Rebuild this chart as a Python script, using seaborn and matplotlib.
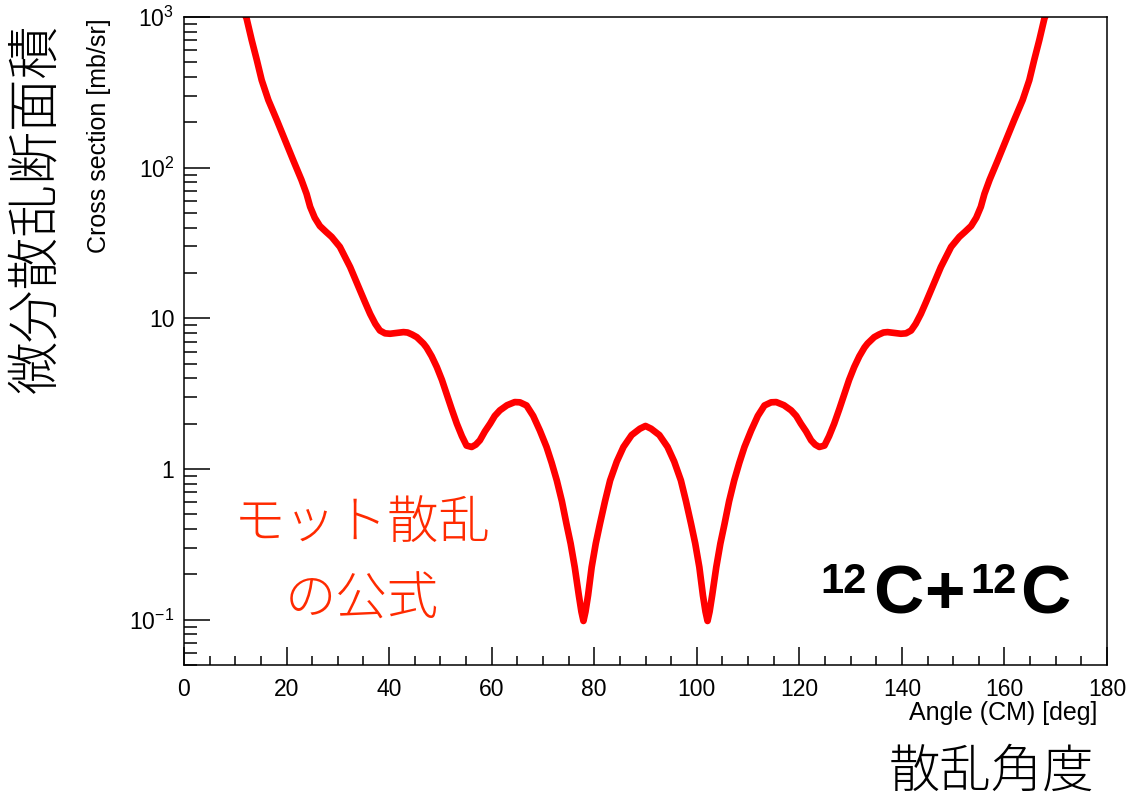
import matplotlib
matplotlib.use("Agg")
import matplotlib.pyplot as plt
import matplotlib.ticker as mticker
import pandas as pd
import seaborn as sns

# scattering angle (CM) in degrees
angle = [10.8, 12.2, 13.2, 14.2, 15.15, 16.45, 18.1, 19.7, 21.3, 22.9, 23.9,
         24.6, 25.5, 26.5, 27.7, 28.8, 30.4, 31.4, 32.4, 33.3, 34.3, 35.3,
         36.3, 37.3, 38.2, 39.2, 40.2, 41.5, 42.8, 43.6, 44.5, 45.4, 46.7,
         47.3, 48.3, 49.3, 50.3, 51.2, 52.2, 53.2, 54.2, 55.1, 56.1, 56.9,
         57.7, 58.7, 59.7, 60.6, 61.6, 63.0, 64.5, 65.5, 66.8, 68.1, 69.4,
         70.7, 71.7, 72.7, 73.7, 74.6, 75.4, 76.2, 77.0, 77.5, 77.9, 78.3,
         78.8, 79.5, 80.3, 81.1, 82.1, 83.1, 84.4, 85.7, 87.3, 88.9, 90.0,
         91.1, 92.7, 94.3, 95.6, 96.9, 97.9, 98.9, 99.7, 100.5, 101.2, 101.7,
         102.1, 102.5, 103.0, 103.8, 104.6, 105.4, 106.3, 107.3, 108.3, 109.3,
         110.6, 111.9, 113.2, 114.5, 115.5, 117.0, 118.4, 119.4, 120.3, 121.3,
         122.3, 123.1, 123.9, 124.9, 125.8, 126.8, 127.8, 128.8, 129.7, 130.7,
         131.7, 132.7, 133.3, 134.6, 135.5, 136.4, 137.2, 138.5, 139.8, 140.8,
         141.8, 142.7, 143.7, 144.7, 145.7, 146.7, 147.6, 148.6, 149.6, 151.2,
         152.3, 153.5, 154.5, 155.4, 156.1, 157.1, 158.7, 160.3, 161.9, 163.55,
         164.85, 165.8, 166.8, 167.8, 169.2]

# differential cross section [mb/sr]
xsec = [1250, 980, 703, 518, 381, 281, 207, 152, 112, 83, 67,
        55, 46.5, 41, 37.5, 34.7, 29.8, 25.5, 21.9, 18.5, 15.4, 12.8,
        10.7, 9.2, 8.3, 7.95, 7.9, 8.0, 8.1, 8.05, 7.8, 7.5, 6.8,
        6.4, 5.6, 4.75, 3.9, 3.16, 2.5, 2.0, 1.65, 1.43, 1.40, 1.45,
        1.55, 1.78, 2.0, 2.25, 2.45, 2.65, 2.78, 2.77, 2.64, 2.25, 1.8,
        1.40, 1.1, 0.84, 0.61, 0.43, 0.32, 0.223, 0.145, 0.113, 0.098, 0.113,
        0.145, 0.223, 0.32, 0.43, 0.61, 0.84, 1.12, 1.40, 1.68, 1.85, 1.93,
        1.85, 1.68, 1.40, 1.12, 0.84, 0.61, 0.43, 0.32, 0.223, 0.145, 0.113,
        0.098, 0.113, 0.145, 0.223, 0.32, 0.43, 0.61, 0.84, 1.1, 1.40,
        1.8, 2.25, 2.64, 2.77, 2.78, 2.65, 2.45, 2.25, 2.0, 1.78,
        1.55, 1.45, 1.40, 1.43, 1.65, 2.0, 2.5, 3.16, 3.9, 4.75,
        5.6, 6.4, 6.8, 7.5, 7.8, 8.05, 8.1, 8.0, 7.9, 7.95,
        8.3, 9.2, 10.7, 12.8, 15.4, 18.5, 21.9, 25.5, 29.8, 34.7,
        37.5, 41, 46.5, 55, 67, 83, 112, 152, 207, 281,
        381, 518, 703, 980, 1250]

ytick_vals = [0.1, 1, 10, 100, 1000]
ytick_labels = ['$10^{-1}$', '1', '10', '$10^{2}$', '$10^{3}$']

sns.set_style("ticks")
plt.rcParams['font.family'] = ['Liberation Sans', 'DejaVu Sans']
plt.rcParams['mathtext.fontset'] = 'custom'
plt.rcParams['mathtext.rm'] = 'Liberation Sans'
plt.rcParams['mathtext.it'] = 'Liberation Sans'
plt.rcParams['mathtext.bf'] = 'Liberation Sans:bold'
for key in ['text.color', 'axes.labelcolor', 'xtick.color', 'ytick.color',
            'axes.edgecolor']:
    plt.rcParams[key] = 'black'

W, H = 1132, 799
fig = plt.figure(figsize=(W / 100, H / 100), dpi=100)
ax = fig.add_axes([184 / W, 1 - 665 / H, (1107 - 184) / W, (665 - 17) / H])

df = pd.DataFrame({'angle': angle, 'xsec': xsec})
sns.lineplot(data=df, x='angle', y='xsec', ax=ax, color='#ff0000',
             linewidth=4.8, sort=False, estimator=None)
ax.lines[0].set_solid_joinstyle('round')
ax.lines[0].set_solid_capstyle('round')

ax.set_yscale('log')
ax.set_xlim(0, 180)
ax.set_ylim(0.05, 1000)
ax.set_xlabel('')
ax.set_ylabel('')

ax.xaxis.set_major_locator(mticker.MultipleLocator(20))
ax.xaxis.set_minor_locator(mticker.MultipleLocator(5))
ax.yaxis.set_major_locator(mticker.FixedLocator(ytick_vals))
ax.yaxis.set_major_formatter(mticker.FixedFormatter(ytick_labels))
ax.yaxis.set_minor_locator(mticker.LogLocator(base=10, subs=range(2, 10)))
ax.yaxis.set_minor_formatter(mticker.NullFormatter())

ax.tick_params(axis='both', which='both', direction='in', top=False, right=False,
               color='black', labelcolor='black', width=1.1)
ax.tick_params(axis='x', which='major', length=13, pad=9, labelsize=16.5)
ax.tick_params(axis='x', which='minor', length=6.5)
ax.tick_params(axis='y', which='major', length=19, pad=7, labelsize=16.5)
ax.tick_params(axis='y', which='minor', length=9.5)
for s in ax.spines.values():
    s.set_visible(True)
    s.set_linewidth(1.1)
    s.set_color('black')

# ROOT-style axis titles
fig.text(99 / W, 1 - 18 / H, 'Cross section [mb/sr]', rotation=90,
         ha='center', va='top', fontsize=18)
fig.text(1097 / W, 1 - 713 / H, 'Angle (CM) [deg]', ha='right', va='center',
         fontsize=18)

# Japanese annotations
jp = ['Noto Sans CJK JP', 'DejaVu Sans']
fig.text(37 / W, 1 - 208 / H, '微分散乱断面積', rotation=90, ha='center',
         va='center', fontsize=38, family=jp, weight='light')
fig.text(1094 / W, 1 - 772 / H, '散乱角度', ha='right', va='center',
         fontsize=37, family=jp, weight='light')
fig.text(362 / W, 1 - 523 / H, 'モット散乱', ha='center', va='center',
         fontsize=37, family=jp, weight='light', color='#ff2a00')
fig.text(362 / W, 1 - 600 / H, 'の公式', ha='center', va='center',
         fontsize=37, family=jp, weight='light', color='#ff2a00')

# 12C+12C, superscript mass numbers top-aligned with the C
pieces = [('12', 820, 593, 30), ('C', 873, 613, 50), ('+', 924, 613, 50),
          ('12', 970, 593, 30), ('C', 1020, 613, 50)]
for txt, px, py, fs in pieces:
    fig.text(px / W, 1 - py / H, txt, ha='left', va='baseline',
             fontsize=fs, weight='bold')

fig.savefig('out.png', dpi=100)
